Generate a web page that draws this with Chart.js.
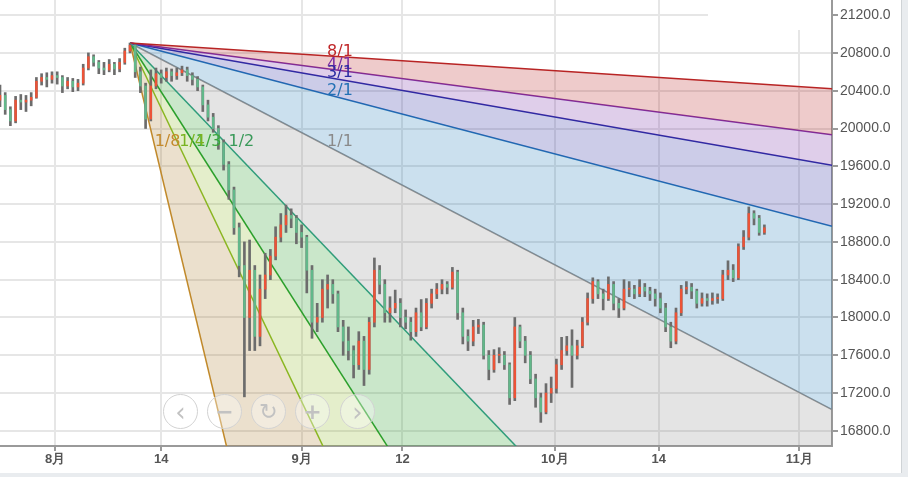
<!DOCTYPE html>
<html>
<head>
<meta charset="utf-8">
<script src="https://cdn.jsdelivr.net/npm/chart.js@4/dist/chart.umd.min.js"></script>
<style>
  html, body { margin: 0; padding: 0; background: #e9ecef; }
  #wrap { position: relative; width: 901px; height: 473px; background: #fff; border-right: 1px solid #cfd3d6; }
  #chart { position: absolute; left: 0; top: 0; }
  .nav {
    position: absolute; top: 394px; width: 35px; height: 35px; box-sizing: border-box;
    border: 1.5px solid #d2d2d2; border-radius: 50%; background: rgba(255,255,255,0.35);
    color: #c2c2c2; font: 22px "DejaVu Sans", sans-serif;
    display: flex; align-items: center; justify-content: center; line-height: 1;
  }
</style>
</head>
<body>
<div id="wrap">
  <canvas id="chart" width="901" height="473"></canvas>
  <div class="nav" style="left:163px;font-size:26px">‹</div>
  <div class="nav" style="left:207px;font-weight:bold">−</div>
  <div class="nav" style="left:251px">↻</div>
  <div class="nav" style="left:295px;font-weight:bold">+</div>
  <div class="nav" style="left:340px;font-size:26px">›</div>
</div>
<script>
// ===== DATA (candle index on x, price on y) =====

const opens = [
  20300, 20350, 20200, 20080, 20300, 20280, 20300, 20330, 20500, 20540,
  20520, 20560, 20540, 20450, 20500, 20440, 20480, 20640, 20760, 20700,
  20640, 20620, 20680, 20630, 20700, 20820, 20880, 20600, 20450, 20100,
  20450, 20580, 20540, 20600, 20560, 20590, 20620, 20560, 20520, 20440,
  20250, 20120, 20000, 19850, 19620, 19350, 18950, 18550, 18000, 18500,
  17800, 18300, 18450, 18650, 18850, 18980, 19080, 19050, 18900, 18850,
  18500, 17950, 18000, 18300, 18350, 18250, 17900, 17750, 17650, 17500,
  17750, 17450, 17950, 18500, 18350, 18050, 18100, 18150, 18000, 17950,
  17850, 18050, 17900, 18150, 18250, 18300, 18350, 18320, 18480, 18050,
  17800, 17750, 17900, 17920, 17600, 17450, 17600, 17600, 17500, 17150,
  17900, 17750, 17600, 17350, 17150, 17000, 17200, 17250, 17500, 17650,
  17700, 17600, 17700, 17950, 18200, 18380, 18250, 18200, 18350, 18150,
  18100, 18300, 18300, 18250, 18320, 18280, 18250, 18200, 18100, 17900,
  17750, 18050, 18300, 18320, 18280, 18150, 18200, 18180, 18200, 18200,
  18450, 18500, 18420, 18750, 18850, 19100, 19050, 18900
];
const highs = [
  20460, 20380, 20230, 20340, 20360, 20350, 20380, 20540, 20580, 20590,
  20600, 20600, 20560, 20540, 20530, 20520, 20680, 20800, 20780, 20720,
  20700, 20730, 20700, 20740, 20850, 20905, 20890, 20650, 20480, 20620,
  20640, 20620, 20640, 20630, 20640, 20660, 20650, 20590, 20550, 20460,
  20300, 20160, 20030, 19880, 19650, 19380, 19000, 18800, 18820, 18550,
  18450, 18680, 18720, 18960, 19100, 19190, 19150, 19080, 18980, 18870,
  18550, 18150, 18400, 18450, 18400, 18280, 17970, 17900, 17700, 17850,
  17800, 18000, 18630, 18550, 18400, 18220, 18290, 18200, 18080, 18000,
  18100, 18190, 18200, 18300, 18360, 18400, 18380, 18530, 18500, 18100,
  17870, 17970, 17980, 17950, 17650, 17660, 17680, 17640, 17520, 18000,
  17920, 17800, 17640, 17400, 17200, 17300, 17370, 17560, 17790, 17800,
  17870, 17760, 18000, 18260, 18420, 18400, 18300, 18430, 18380, 18200,
  18400, 18380, 18340, 18400, 18360, 18320, 18300, 18260, 18150, 17950,
  18100, 18340, 18380, 18360, 18300, 18260, 18250, 18260, 18250, 18500,
  18600, 18560, 18780, 18920, 19170, 19130, 19080, 18980
];
const lows = [
  20230, 20150, 20030, 20060, 20200, 20180, 20240, 20320, 20460, 20440,
  20480, 20470, 20380, 20420, 20390, 20400, 20460, 20620, 20660, 20580,
  20570, 20600, 20570, 20600, 20680, 20800, 20540, 20380, 20000, 20080,
  20420, 20480, 20500, 20500, 20520, 20560, 20500, 20460, 20400, 20180,
  20080, 19960, 19780, 19560, 19250, 18880, 18430, 17160, 17650, 17650,
  17700, 18200, 18400, 18610, 18800, 18900, 18950, 18780, 18740, 18260,
  17780, 17850, 17950, 18100, 18150, 17850, 17600, 17550, 17360, 17450,
  17280, 17400, 17900, 18250, 17950, 17950, 18050, 17900, 17880, 17760,
  17800, 17860, 17880, 18100, 18200, 18250, 18250, 18300, 17980, 17720,
  17650, 17700, 17830, 17560, 17340, 17420, 17520, 17450, 17080, 17120,
  17680, 17520, 17300, 17050, 16890, 16980, 17100, 17200, 17450, 17600,
  17260, 17560, 17680, 17920, 18150, 18200, 18080, 18180, 18080, 18000,
  18080, 18220, 18200, 18220, 18220, 18180, 18120, 18050, 17850, 17680,
  17720, 18020, 18250, 18200, 18100, 18120, 18120, 18140, 18150, 18180,
  18400, 18380, 18400, 18720, 18820, 18980, 18870, 18880
];
const closes = [
  20350, 20200, 20080, 20300, 20280, 20300, 20330, 20500, 20540, 20520,
  20560, 20540, 20450, 20500, 20440, 20480, 20640, 20760, 20700, 20640,
  20620, 20680, 20630, 20700, 20820, 20880, 20600, 20450, 20100, 20450,
  20580, 20540, 20600, 20560, 20590, 20620, 20560, 20520, 20440, 20250,
  20120, 20000, 19850, 19620, 19350, 18950, 18550, 18000, 18500, 17800,
  18300, 18450, 18650, 18850, 18980, 19080, 19050, 18900, 18850, 18500,
  17950, 18000, 18300, 18350, 18250, 17900, 17750, 17650, 17500, 17750,
  17450, 17950, 18500, 18350, 18050, 18100, 18150, 18000, 17950, 17850,
  18050, 17900, 18150, 18250, 18300, 18350, 18320, 18480, 18050, 17800,
  17750, 17900, 17920, 17600, 17450, 17600, 17600, 17500, 17150, 17900,
  17750, 17600, 17350, 17150, 17000, 17200, 17250, 17500, 17650, 17700,
  17600, 17700, 17950, 18200, 18380, 18250, 18200, 18350, 18150, 18100,
  18300, 18300, 18250, 18320, 18280, 18250, 18200, 18100, 17900, 17750,
  18050, 18300, 18320, 18280, 18150, 18200, 18180, 18200, 18200, 18450,
  18500, 18420, 18750, 18850, 19100, 19050, 18900, 18950
];

// x axis labels (positions in candle units)
const tickPositions = [10.6, 31, 58, 77.4, 106.7, 126.7, 153.7];
const tickLabels = ['8月', '14', '9月', '12', '10月', '14', '11月'];
const priceTicks = [16800, 17200, 17600, 18000, 18400, 18800, 19200, 19600, 20000, 20400, 20800, 21200];

// ===== GANN FAN =====
const pivotIndex = 25;
const pivotPrice = 20905;
const unitSlope = 28.74;        // price per candle on the 1/1 line
const labelSpan = 37.9;         // candles from the pivot to the label point
const fanNames = ['8/1', '4/1', '3/1', '2/1', '1/1', '1/2', '1/3', '1/4', '1/8'];
const fanFactors = [8, 4, 3, 2, 1, 1 / 2, 1 / 3, 1 / 4, 1 / 8];
const fanLineColors = ['#b82424', '#7e2ea2', '#2b2ba3', '#2271b5', '#8e8e8e', '#27a07a', '#2ca02c', '#8ab622', '#c48c2c'];
const fanFillColors = [
    'rgba(180,30,30,0.23)', 'rgba(110,30,160,0.22)', 'rgba(40,40,160,0.24)',
    'rgba(31,119,180,0.23)', 'rgba(128,128,128,0.21)', 'rgba(44,160,44,0.25)',
    'rgba(140,180,30,0.23)', 'rgba(170,120,40,0.23)', 'rgba(0,0,0,0)'
];
const fanLabelColors = ['#c0282a', '#7e2ea2', '#2b2ba3', '#2271b5', '#8a8a8a', '#3a9a5a', '#3aa63a', '#79b420', '#c48a2c'];

const X_MAX = 160;
const Y_MIN = 16640, Y_MAX = 21360;

const fanDatasets = fanNames.map((name, k) => ({
    type: 'line',
    label: name,
    data: [
        { x: pivotIndex, y: pivotPrice },
        { x: X_MAX, y: pivotPrice - unitSlope / fanFactors[k] * (X_MAX - pivotIndex) }
    ],
    borderColor: fanLineColors[k],
    borderWidth: 1.5,
    backgroundColor: fanFillColors[k],
    fill: k < fanNames.length - 1 ? '+1' : false,
    pointRadius: 0,
    tension: 0,
    order: 5
}));

const wickData = highs.map((h, i) => ({ x: i, y: [lows[i], h] }));
const bodyData = opens.map((o, i) => ({ x: i, y: [o, closes[i]] }));
const bodyColors = opens.map((o, i) => closes[i] >= o ? '#ec5337' : '#62b88a');

// ===== PLUGINS =====
const topBox = {
    id: 'topBox',
    beforeDatasetsDraw(chart) {
        const { ctx, chartArea } = chart;
        ctx.save();
        ctx.fillStyle = '#fff';
        ctx.fillRect(708, chartArea.top, chartArea.right - 709, 30);
        ctx.restore();
    }
};

const fanLabels = {
    id: 'fanLabels',
    afterDatasetsDraw(chart) {
        const { ctx } = chart;
        const x = chart.scales.x, y = chart.scales.y;
        ctx.save();
        ctx.font = '16px "DejaVu Sans", sans-serif';
        ctx.textBaseline = 'middle';
        ctx.textAlign = 'left';
        fanNames.forEach((name, k) => {
            const f = fanFactors[k];
            const dx = f >= 1 ? labelSpan : labelSpan * f;
            const dy = f >= 1 ? unitSlope * labelSpan / f : unitSlope * labelSpan;
            ctx.fillStyle = fanLabelColors[k];
            ctx.fillText(name, x.getPixelForValue(pivotIndex + dx), y.getPixelForValue(pivotPrice - dy) - 4);
        });
        ctx.restore();
    }
};

// ===== CHART =====
new Chart(document.getElementById('chart'), {
    type: 'bar',
    data: {
        datasets: [
            ...fanDatasets,
            { label: 'wick', data: wickData, backgroundColor: '#6c6c6c', barThickness: 2, grouped: false, order: 2 },
            { label: 'body', data: bodyData, backgroundColor: bodyColors, barThickness: 1.8, minBarLength: 1, grouped: false, order: 1 }
        ]
    },
    options: {
        responsive: false,
        animation: false,
        layout: { padding: 0 },
        plugins: { legend: { display: false }, tooltip: { enabled: false } },
        scales: {
            x: {
                type: 'linear', min: 0, max: X_MAX, offset: false,
                grid: { color: '#e6e6e6', lineWidth: 2, offset: false, tickLength: 5, tickColor: '#9a9a9a' },
                border: { color: '#9a9a9a', width: 2 },
                ticks: {
                    autoSkip: false, maxRotation: 0, padding: 1, color: '#555',
                    font: { family: '"Liberation Sans", Arial, sans-serif', size: 13, weight: 'bold' },
                    callback: v => tickLabels[tickPositions.indexOf(v)] ?? ''
                },
                afterBuildTicks: s => { s.ticks = tickPositions.map(v => ({ value: v })); },
                afterFit: s => { s.height = 27; s.paddingLeft = 0; s.paddingRight = 0; }
            },
            y: {
                position: 'right', min: Y_MIN, max: Y_MAX,
                grid: { color: '#e6e6e6', lineWidth: 2, tickLength: 6, tickColor: '#9a9a9a' },
                border: { color: '#9a9a9a', width: 2 },
                ticks: {
                    padding: 2, color: '#555',
                    font: { family: '"Liberation Sans", Arial, sans-serif', size: 14 },
                    callback: v => v.toFixed(1)
                },
                afterBuildTicks: s => { s.ticks = priceTicks.map(v => ({ value: v })); },
                afterFit: s => { s.width = 69; s.paddingTop = 0; s.paddingBottom = 0; }
            }
        }
    },
    plugins: [topBox, fanLabels]
});
</script>
</body>
</html>
